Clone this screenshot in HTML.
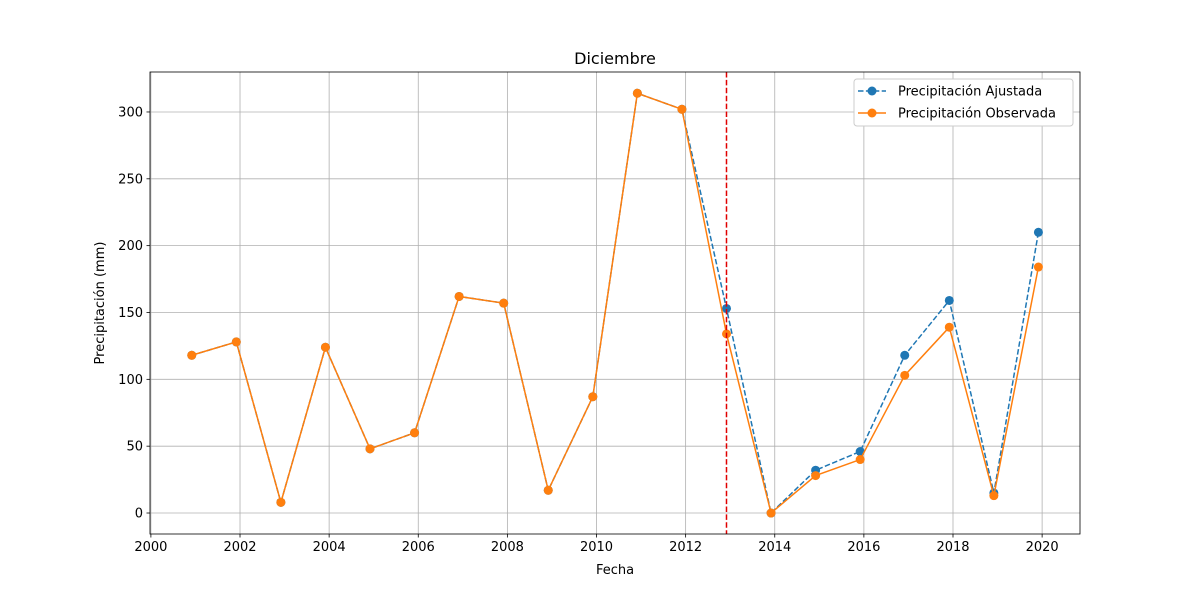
<!DOCTYPE html>
<html><head><meta charset="utf-8"><style>
body{margin:0;background:#fff;font-family:"Liberation Sans","DejaVu Sans",sans-serif}
</style></head><body>
<svg id="chart" width="1200" height="600" xmlns="http://www.w3.org/2000/svg" style="font-family:'DejaVu Sans','Liberation Sans',sans-serif"></svg>
<script>
const years=[2000,2001,2002,2003,2004,2005,2006,2007,2008,2009,2010,2011,2012,2013,2014,2015,2016,2017,2018,2019];
const ajustada=[118,128,8,124,48,60,162,157,17,87,314,302,153,0,32,46,118,159,15,210];
const observada=[118,128,8,124,48,60,162,157,17,87,314,302,134,0,28,40,103,139,13,184];
const xTicks=[2000,2002,2004,2006,2008,2010,2012,2014,2016,2018,2020];
const yTicks=[0,50,100,150,200,250,300];
const cutYear=2012.917;
const L=150,R=1080,T=72,B=534;
const X0=1999.98,X1=2020.85,Y0=-15.7,Y1=329.9;
const xs=v=>L+(v-X0)/(X1-X0)*(R-L);
const ys=v=>B-(v-Y0)/(Y1-Y0)*(B-T);
const svg=document.getElementById('chart');
const NS='http://www.w3.org/2000/svg';
function mk(tag,attrs,parent){const e=document.createElementNS(NS,tag);for(const k in attrs)e.setAttribute(k,attrs[k]);(parent||svg).appendChild(e);return e;}
mk('rect',{x:L,y:T,width:R-L,height:B-T,fill:'#fff'});
xTicks.forEach(t=>{const x=xs(t);
 const g=mk('line',{x1:x,x2:x,y1:T,y2:B,stroke:'#b0b0b0','stroke-width':0.8});
 
 
 mk('line',{x1:x,x2:x,y1:B,y2:B+3.5,stroke:'#000','stroke-width':0.8});
 const tx=mk('text',{x:x,y:B+17,'text-anchor':'middle','font-size':13});tx.textContent=t;
 
 
});
yTicks.forEach(t=>{const y=ys(t);
 const g=mk('line',{x1:L,x2:R,y1:y,y2:y,stroke:'#b0b0b0','stroke-width':0.8});
 
 
 mk('line',{x1:L-3.5,x2:L,y1:y,y2:y,stroke:'#000','stroke-width':0.8});
 const tx=mk('text',{x:L-7,y:y+4.5,'text-anchor':'end','font-size':13});tx.textContent=t;
 
 
});
function series(vals,color,dash,name){
 const pts=vals.map((v,i)=>xs(years[i]+0.917)+','+ys(v)).join(' ');
 const p=mk('polyline',{points:pts,fill:'none',stroke:color,'stroke-width':1.5});
 if(dash)p.setAttribute('stroke-dasharray','5.5,2.4');
 
 
 vals.forEach((v,i)=>{const c=mk('circle',{cx:xs(years[i]+0.917),cy:ys(v),r:4.5,fill:color});
  
  });
}
series(ajustada,'#1f77b4',true,'ajustada');
series(observada,'#ff7f0e',false,'observada');
const cl=mk('line',{x1:xs(cutYear),x2:xs(cutYear),y1:T,y2:B,stroke:'#e00000','stroke-width':1.5,'stroke-dasharray':'5.5,2.4'});


mk('rect',{x:L,y:T,width:R-L,height:B-T,fill:'none',stroke:'#000','stroke-width':0.8});
const title=mk('text',{x:(L+R)/2,y:64,'text-anchor':'middle','font-size':16});title.textContent='Diciembre';


const xl=mk('text',{x:(L+R)/2,y:574,'text-anchor':'middle','font-size':13});xl.textContent='Fecha';


const yl=mk('text',{x:0,y:0,'text-anchor':'middle','font-size':13,transform:`translate(104,${(T+B)/2}) rotate(-90)`});yl.textContent='Precipitación (mm)';


const lg=mk('g',{});


mk('rect',{x:854,y:79,width:219,height:47,rx:3,fill:'#fff',stroke:'#ccc','stroke-width':1},lg);
[['Precipitación Ajustada','#1f77b4',true,91],['Precipitación Observada','#ff7f0e',false,113]].forEach(([t,c,d,y])=>{
 const e=mk('g',{},lg);
 
 
 const l=mk('line',{x1:858,x2:886,y1:y,y2:y,stroke:c,'stroke-width':1.5},e);if(d)l.setAttribute('stroke-dasharray','5.5,2.4');
 mk('circle',{cx:872,cy:y,r:4.5,fill:c},e);
 const tx=mk('text',{x:898,y:y+4.5,'font-size':13},e);tx.textContent=t;
});
</script>
</body></html>
